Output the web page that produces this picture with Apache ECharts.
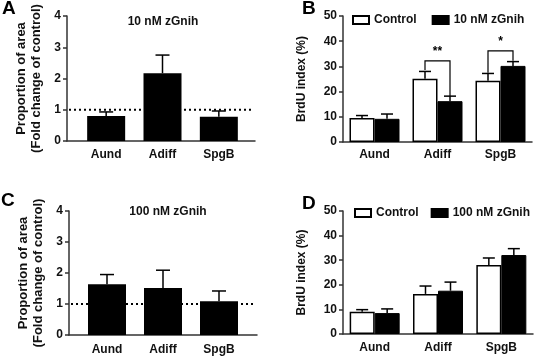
<!DOCTYPE html>
<html>
<head>
<meta charset="utf-8">
<script src="https://cdn.jsdelivr.net/npm/echarts@6/dist/echarts.min.js"></script>
<style>
html,body{margin:0;padding:0;background:#fff;}
#chart{width:535px;height:357px;}
</style>
</head>
<body>
<div id="chart"></div>
<script>
// ---------- data ----------
const categories = ['Aund', 'Adiff', 'SpgB'];

// Panel A: 10 nM zGnih, fold change of control
const aMean = [0.80, 2.17, 0.78];
const aSem  = [0.13, 0.58, 0.18];

// Panel C: 100 nM zGnih, fold change of control
const cMean = [1.64, 1.52, 1.09];
const cSem  = [0.31, 0.57, 0.33];

// Panel B: BrdU index (%), control vs 10 nM zGnih
const bControl    = [9.5, 25.1, 24.3];
const bControlSem = [1.0, 2.9, 2.9];
const bTreat      = [9.2, 16.2, 30.2];
const bTreatSem   = [1.9, 2.0, 1.7];

// Panel D: BrdU index (%), control vs 100 nM zGnih
const dControl    = [9.0, 16.3, 28.0];
const dControlSem = [0.9, 3.2, 2.9];
const dTreat      = [8.5, 17.6, 32.1];
const dTreatSem   = [1.7, 3.5, 2.6];

// reference line (fold change = 1)
const foldRef = 1;

// significance brackets in panel B
const sigCats     = [1, 2];
const sigTop      = [32.2, 36.2];
const sigLeftEnd  = [28.6, 27.5];
const sigRightEnd = [18.2, 32.2];
const sigLabels   = ['**', '*'];

// axis ranges / ticks
const foldMax = 4, foldStep = 1;
const brduMax = 50, brduStep = 10;

const seriesNamesB = ['Control', '10 nM zGnih'];
const seriesNamesD = ['Control', '100 nM zGnih'];
const titleA = '10 nM zGnih';
const titleC = '100 nM zGnih';
const yNameFold = 'Proportion of area\n(Fold change of control)';
const yNameBrdU = 'BrdU index (%)';

// ---------- styling ----------
const FONT = '"Liberation Sans", Arial, sans-serif';
const AXC = '#333';
const chart = echarts.init(document.getElementById('chart'), null, {renderer: 'canvas'});

function valueYAxis(gridIndex, max, step, name, nameGap, show, nameSize) {
  return {
    type: 'value', gridIndex, min: 0, max, interval: step,
    show: show,
    name: show ? name : '',
    nameLocation: 'middle', nameGap, nameRotate: 90,
    nameTextStyle: {fontFamily: FONT, fontWeight: 'bold', fontSize: nameSize || 12, color: '#111', lineHeight: 15},
    axisLine: {show: true, lineStyle: {color: AXC, width: 1.5}},
    axisTick: {show: true, length: 4, lineStyle: {color: AXC, width: 1.5}},
    axisLabel: {fontFamily: FONT, fontWeight: 'bold', fontSize: 12, color: '#111', margin: 6},
    splitLine: {show: false}
  };
}
function lineXAxis(gridIndex) {
  return {
    type: 'value', gridIndex, min: 0, max: 1,
    axisLine: {show: true, onZero: false, lineStyle: {color: AXC, width: 1.5}},
    axisTick: {show: false}, axisLabel: {show: false}, splitLine: {show: false}
  };
}
function catXAxis(gridIndex, showLine, margin) {
  return {
    type: 'category', gridIndex, data: categories,
    axisLine: {show: showLine, onZero: false, lineStyle: {color: AXC, width: 1.5}},
    axisTick: {show: false},
    axisLabel: {fontFamily: FONT, fontWeight: 'bold', fontSize: 12, color: '#111', margin},
    splitLine: {show: false}
  };
}

function errSeries(xi, yi, mean, sem, offset, capW) {
  return {
    type: 'custom', xAxisIndex: xi, yAxisIndex: yi, z: 3,
    data: mean.map((m, i) => [i, m, m + sem[i]]),
    renderItem: function (params, api) {
      const p0 = api.coord([api.value(0), api.value(1)]);
      const p1 = api.coord([api.value(0), api.value(2)]);
      const x = p0[0] + offset;
      const st = {stroke: '#000', lineWidth: 1.5};
      return {type: 'group', children: [
        {type: 'line', shape: {x1: x, y1: p0[1], x2: x, y2: p1[1]}, style: st},
        {type: 'line', shape: {x1: x - capW / 2, y1: p1[1], x2: x + capW / 2, y2: p1[1]}, style: st}
      ]};
    }
  };
}

function refLineSeries(xi, yi) {
  return {
    type: 'custom', xAxisIndex: xi, yAxisIndex: yi, z: 1,
    data: [[0, foldRef]],
    renderItem: function (params, api) {
      const cs = params.coordSys;
      const y = api.coord([0, api.value(1)])[1];
      return {type: 'line', shape: {x1: cs.x + 2, y1: y, x2: cs.x + cs.width - 2, y2: y},
        style: {stroke: '#000', lineWidth: 2, lineDash: [2, 3]}};
    }
  };
}

const BW_SINGLE = 38, BW_PAIR = 25;
const legendText = {fontFamily: FONT, fontWeight: 'bold', fontSize: 12, color: '#111'};

const option = {
  backgroundColor: '#fff',
  animation: false,
  textStyle: {fontFamily: FONT},
  grid: [
    {left: 67, top: 16, width: 188, height: 125},   // 0 A axis frame
    {left: 78, top: 16, width: 169, height: 125},   // 1 A bars
    {left: 343, top: 16, width: 189, height: 126},  // 2 B
    {left: 69, top: 211, width: 188, height: 124},  // 3 C axis frame
    {left: 79, top: 211, width: 168, height: 124},  // 4 C bars
    {left: 343, top: 211, width: 190, height: 123}  // 5 D
  ],
  xAxis: [
    lineXAxis(0),
    catXAxis(1, false, 8),
    catXAxis(2, true, 7),
    lineXAxis(3),
    catXAxis(4, false, 9),
    catXAxis(5, true, 8)
  ],
  yAxis: [
    valueYAxis(0, foldMax, foldStep, yNameFold, 23, true, 13),
    valueYAxis(1, foldMax, foldStep, '', 0, false),
    valueYAxis(2, brduMax, brduStep, yNameBrdU, 34, true, 12),
    valueYAxis(3, foldMax, foldStep, yNameFold, 23, true, 13),
    valueYAxis(4, foldMax, foldStep, '', 0, false),
    valueYAxis(5, brduMax, brduStep, yNameBrdU, 34, true, 12)
  ],
  legend: [
    {data: seriesNamesB, left: 352, top: 14, padding: 0, width: 183, itemWidth: 16, itemHeight: 8, itemGap: 15,
     icon: 'rect', textStyle: legendText},
    {data: seriesNamesD, left: 354, top: 207, padding: 0, width: 181, itemWidth: 16, itemHeight: 8, itemGap: 12,
     icon: 'rect', textStyle: legendText}
  ],
  graphic: [
    {type: 'text', left: 2, top: -1, style: {text: 'A', font: 'bold 19px ' + FONT, fill: '#000'}},
    {type: 'text', left: 302, top: -1, style: {text: 'B', font: 'bold 19px ' + FONT, fill: '#000'}},
    {type: 'text', left: 1, top: 191, style: {text: 'C', font: 'bold 19px ' + FONT, fill: '#000'}},
    {type: 'text', left: 302, top: 194, style: {text: 'D', font: 'bold 19px ' + FONT, fill: '#000'}},
    {type: 'text', x: 163, y: 22, style: {text: titleA, font: 'bold 12px ' + FONT, fill: '#111', align: 'center', verticalAlign: 'middle'}},
    {type: 'text', x: 168, y: 212, style: {text: titleC, font: 'bold 12px ' + FONT, fill: '#111', align: 'center', verticalAlign: 'middle'}}
  ],
  series: [
    // Panel A
    refLineSeries(0, 0),
    {type: 'bar', xAxisIndex: 1, yAxisIndex: 1, z: 2, data: aMean, barWidth: BW_SINGLE,
     itemStyle: {color: '#000'}},
    errSeries(1, 1, aMean, aSem, 0, 14),
    // Panel B
    {type: 'bar', name: seriesNamesB[0], xAxisIndex: 2, yAxisIndex: 2, data: bControl,
     barWidth: BW_PAIR, barGap: '0%', itemStyle: {color: '#fff', borderColor: '#000', borderWidth: 1.5}},
    {type: 'bar', name: seriesNamesB[1], xAxisIndex: 2, yAxisIndex: 2, data: bTreat,
     barWidth: BW_PAIR, barGap: '0%', itemStyle: {color: '#000', borderColor: '#000', borderWidth: 1}},
    errSeries(2, 2, bControl, bControlSem, -BW_PAIR / 2, 12),
    errSeries(2, 2, bTreat, bTreatSem, BW_PAIR / 2, 12),
    {
      type: 'custom', xAxisIndex: 2, yAxisIndex: 2, z: 4,
      data: sigCats.map((c, i) => [c, sigTop[i], sigLeftEnd[i], sigRightEnd[i]]),
      renderItem: function (params, api) {
        const cx = api.coord([api.value(0), 0])[0];
        const xl = cx - BW_PAIR / 2, xr = cx + BW_PAIR / 2;
        const yt = api.coord([api.value(0), api.value(1)])[1];
        const yl = api.coord([api.value(0), api.value(2)])[1];
        const yr = api.coord([api.value(0), api.value(3)])[1];
        const st = {stroke: '#000', lineWidth: 1.2, fill: null};
        return {type: 'group', children: [
          {type: 'polyline', shape: {points: [[xl, yl], [xl, yt], [xr, yt], [xr, yr]]}, style: st},
          {type: 'text', x: cx, y: yt - 3, style: {text: sigLabels[params.dataIndex],
            font: 'bold 12px ' + FONT, fill: '#000', align: 'center', verticalAlign: 'bottom'}}
        ]};
      }
    },
    // Panel C
    refLineSeries(3, 3),
    {type: 'bar', xAxisIndex: 4, yAxisIndex: 4, z: 2, data: cMean, barWidth: BW_SINGLE,
     itemStyle: {color: '#000'}},
    errSeries(4, 4, cMean, cSem, 0, 14),
    // Panel D
    {type: 'bar', name: seriesNamesD[0], xAxisIndex: 5, yAxisIndex: 5, data: dControl,
     barWidth: BW_PAIR, barGap: '0%', itemStyle: {color: '#fff', borderColor: '#000', borderWidth: 1.5}},
    {type: 'bar', name: seriesNamesD[1], xAxisIndex: 5, yAxisIndex: 5, data: dTreat,
     barWidth: BW_PAIR, barGap: '0%', itemStyle: {color: '#000', borderColor: '#000', borderWidth: 1}},
    errSeries(5, 5, dControl, dControlSem, -BW_PAIR / 2, 12),
    errSeries(5, 5, dTreat, dTreatSem, BW_PAIR / 2, 12)
  ]
};
chart.setOption(option);
</script>
</body>
</html>
